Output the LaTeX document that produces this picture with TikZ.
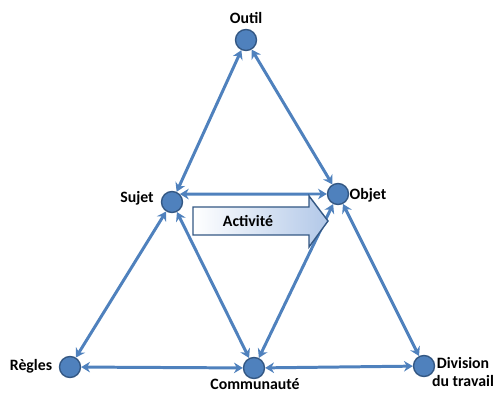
\documentclass[tikz,border=0pt]{standalone}
\usepackage{fontspec}
\setmainfont{Carlito}
\usetikzlibrary{arrows.meta}
\definecolor{bleu}{RGB}{79,129,189}
\definecolor{bleufonce}{RGB}{52,88,132}
\definecolor{bleuclair}{RGB}{178,200,232}
\tikzset{
  sommet/.style={circle, fill=bleu, draw=bleufonce, line width=0.8pt, minimum size=0.42cm, inner sep=0pt},
  lien/.style={{Stealth[length=5pt,width=6pt]}-{Stealth[length=5pt,width=6pt]}, bleu, line width=1.7pt},
  etiq/.style={font=\bfseries\fontsize{9}{10}\selectfont, align=center, inner sep=0pt}
}
\begin{document}
\begin{tikzpicture}[x=0.02cm, y=-0.02cm]
    \useasboundingbox (0,0) rectangle (496,394);
    % Sommets
    \node[sommet] (outil) at (246,40) {};
    \node[sommet] (sujet) at (172,202) {};
    \node[sommet] (objet) at (338,194) {};
    \node[sommet] (regles) at (70,367) {};
    \node[sommet] (communaute) at (254,368) {};
    \node[sommet] (division) at (424,366) {};
    % Liens
    \draw[lien] (outil) -- (sujet);
    \draw[lien] (outil) -- (objet);
    \draw[lien] (sujet.45) -- (objet.west);
    \draw[lien] (sujet) -- (regles);
    \draw[lien] (sujet) -- (communaute);
    \draw[lien] (objet) -- (communaute);
    \draw[lien] (objet) -- (division);
    \draw[lien] (regles) -- (communaute);
    \draw[lien] (communaute) -- (division);
    % Activite
    \shade[left color=white, right color=bleuclair, draw=bleufonce, line width=0.8pt]
      (193,207) -- (309,207) -- (309,196) -- (328,221) -- (309,247) -- (309,235) -- (193,235) -- cycle;
    \node[etiq] (activite) at (248,221) {Activité};
    % Etiquettes
    \node[etiq] (lOutil) at (246,18) {Outil};
    \node[etiq] (lSujet) at (137,198) {Sujet};
    \node[etiq] (lObjet) at (368,195) {Objet};
    \node[etiq] (lRegles) at (31,366) {Règles};
    \node[etiq] (lCommunaute) at (255,384) {Communauté};
    \node[etiq] (lDivision) at (463,372) {Division\\du travail};
\end{tikzpicture}
\end{document}
